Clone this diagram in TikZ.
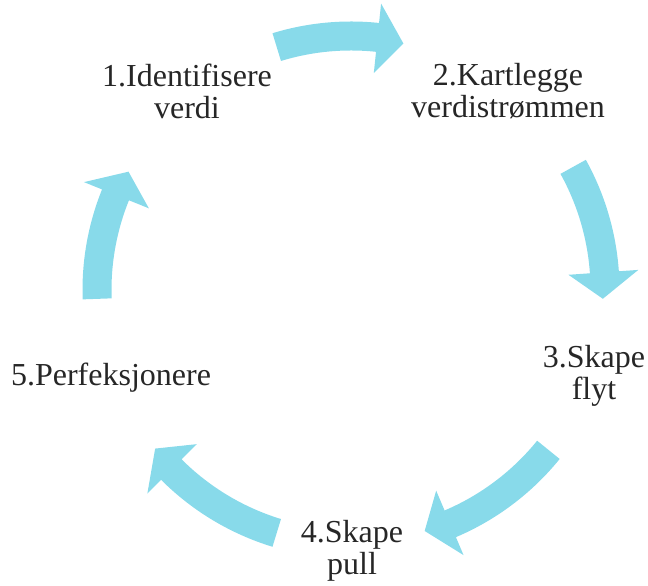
\documentclass[tikz,border=0pt]{standalone}
\usepackage{fontspec}
\setmainfont{Liberation Serif}
\definecolor{arrowcyan}{RGB}{136,218,234}
\definecolor{textgray}{RGB}{38,38,38}
\newcommand\CycArrow[2]{% #1 tail angle, #2 tip angle (clockwise)
  \pgfmathsetmacro\hb{#2+6}
  \fill[arrowcyan] (#1:268.5) arc[start angle=#1, end angle=\hb, radius=268.5]
    -- (\hb:288) -- (#2:252) -- (\hb:218) -- (\hb:239.5)
    arc[start angle=\hb, end angle=#1, radius=239.5] -- cycle;
}
\tikzset{lbl/.style={inner sep=0pt, align=center, text=textgray,
  font=\fontsize{32}{32}\selectfont}}
\begin{document}
\begin{tikzpicture}[x=1pt,y=1pt]
\useasboundingbox (0,0) rectangle (648,586);
\begin{scope}[shift={(351,296)}]
  \CycArrow{107}{78}
  \CycArrow{29}{-2}
  \CycArrow{-39}{-73}
  \CycArrow{-107}{-141}
  \CycArrow{182}{152}
\end{scope}
\node[lbl] (n1) at (187,495) {1.Identifisere\\verdi};
\node[lbl] (n2) at (508,495) {2.Kartlegge\\verdistrømmen};
\node[lbl] (n3) at (594,210) {3.Skape\\flyt};
\node[lbl] (n4) at (352,35) {4.Skape\\pull};
\node[lbl] (n5) at (111,208) {5.Perfeksjonere};
\end{tikzpicture}
\end{document}
